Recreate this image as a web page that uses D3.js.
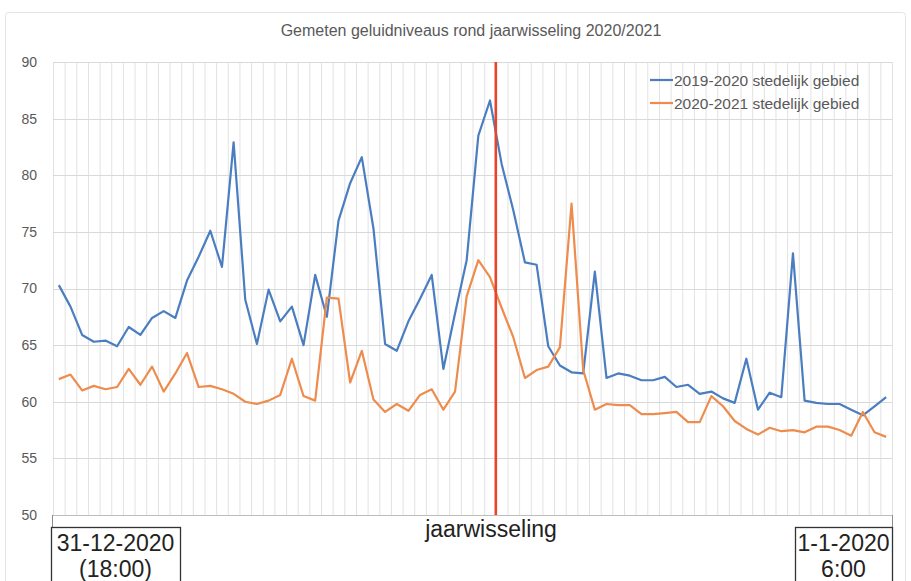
<!DOCTYPE html>
<html>
<head>
<meta charset="utf-8">
<script src="https://cdn.jsdelivr.net/npm/d3@7"></script>
<style>
  body { margin: 0; background: #fff; }
  svg { display: block; }
  text { font-family: "Liberation Sans", Arial, sans-serif; }
</style>
</head>
<body>
<svg id="chart" width="911" height="581"></svg>
<script>
// Ten-minute measurement slots between 18:00 and 6:00
const categories = d3.range(1, 73);

// Sound levels (dB) per slot
const series2019 = [70.3, 68.4, 65.9, 65.3, 65.4, 64.9, 66.6, 65.9, 67.4, 68.0,
  67.4, 70.7, 72.8, 75.1, 71.9, 82.9, 69.0, 65.1, 69.9, 67.1,
  68.4, 65.0, 71.2, 67.5, 76.0, 79.3, 81.6, 75.3, 65.1, 64.5,
  67.1, 69.1, 71.2, 62.9, 67.8, 72.5, 83.5, 86.6, 81.0, 76.9,
  72.3, 72.1, 64.9, 63.2, 62.6, 62.5, 71.5, 62.1, 62.5, 62.3,
  61.9, 61.9, 62.2, 61.3, 61.5, 60.7, 60.9, 60.3, 59.9, 63.8,
  59.3, 60.8, 60.4, 73.1, 60.1, 59.9, 59.8, 59.8, 59.3, 58.8,
  59.6, 60.4];

const series2020 = [62.0, 62.4, 61.0, 61.4, 61.1, 61.3, 62.9, 61.5, 63.1, 60.9,
  62.5, 64.3, 61.3, 61.4, 61.1, 60.7, 60.0, 59.8, 60.1, 60.6,
  63.8, 60.5, 60.1, 69.2, 69.1, 61.7, 64.5, 60.2, 59.1, 59.8,
  59.2, 60.6, 61.1, 59.3, 60.9, 69.3, 72.5, 71.0, 68.3, 65.7,
  62.1, 62.8, 63.1, 64.8, 77.5, 62.8, 59.3, 59.8, 59.7, 59.7,
  58.9, 58.9, 59.0, 59.1, 58.2, 58.2, 60.5, 59.6, 58.3, 57.6,
  57.1, 57.7, 57.4, 57.5, 57.3, 57.8, 57.8, 57.5, 57.0, 59.1,
  57.3, 56.9];

const seriesNames = ["2019-2020 stedelijk gebied", "2020-2021 stedelijk gebied"];
const seriesColors = ["#4a7ec0", "#ee8c4e"];
const yTicks = [50, 55, 60, 65, 70, 75, 80, 85, 90];
const newYearSlot = 39; // the slot that starts right after midnight

const title = "Gemeten geluidniveaus rond jaarwisseling 2020/2021";
const startLabel = ["31-12-2020", "(18:00)"];
const endLabel = ["1-1-2020", "6:00"];
const midLabel = "jaarwisseling";

const svg = d3.select("#chart");
const plot = { left: 53, right: 892, top: 62, bottom: 515 };

const x = d3.scaleBand().domain(categories).range([plot.left, plot.right]).padding(0);
const y = d3.scaleLinear().domain([50, 90]).range([plot.bottom, plot.top]);
const cx = d => x(d) + x.bandwidth() / 2;

// chart frame
svg.append("rect")
  .attr("x", 5.5).attr("y", 12.5).attr("width", 900).attr("height", 600)
  .attr("rx", 3).attr("fill", "none").attr("stroke", "#e4e4e4");

// title
svg.append("text")
  .attr("x", 471).attr("y", 36)
  .attr("text-anchor", "middle")
  .attr("font-size", 16).attr("fill", "#595959")
  .text(title);

// vertical gridlines at slot boundaries
const boundaries = categories.map(d => x(d)).concat([plot.right]);
svg.append("g").selectAll("line").data(boundaries).join("line")
  .attr("x1", d => d + 0.5).attr("x2", d => d + 0.5)
  .attr("y1", plot.top).attr("y2", plot.bottom)
  .attr("stroke", "#e2e2e2").attr("stroke-width", 1);

// horizontal gridlines
svg.append("g").selectAll("line").data(yTicks).join("line")
  .attr("x1", plot.left).attr("x2", plot.right)
  .attr("y1", d => Math.round(y(d)) + 0.5).attr("y2", d => Math.round(y(d)) + 0.5)
  .attr("stroke", "#d9d9d9").attr("stroke-width", 1);

// y axis labels
const yAxis = svg.append("g")
  .attr("transform", `translate(${plot.left},0)`)
  .call(d3.axisLeft(y).tickValues(yTicks).tickSize(0).tickPadding(16));
yAxis.select(".domain").remove();
yAxis.selectAll("text")
  .attr("font-family", "\"Liberation Sans\", Arial, sans-serif")
  .attr("font-size", 14).attr("fill", "#595959");

// category axis line
svg.append("line")
  .attr("x1", plot.left).attr("x2", plot.right)
  .attr("y1", plot.bottom + 0.5).attr("y2", plot.bottom + 0.5)
  .attr("stroke", "#bdbdbd");

// series lines
const line = d3.line().x((d, i) => cx(categories[i])).y(d => y(d));
[series2019, series2020].forEach((s, k) => {
  svg.append("path")
    .datum(s)
    .attr("d", line)
    .attr("fill", "none")
    .attr("stroke", seriesColors[k])
    .attr("stroke-width", 2.2)
    .attr("stroke-linejoin", "round");
});

// new-year marker
const xNY = x(newYearSlot);
svg.append("line")
  .attr("x1", xNY).attr("x2", xNY)
  .attr("y1", plot.top).attr("y2", plot.bottom)
  .attr("stroke", "#e8432c").attr("stroke-width", 2.6);

// legend
const legend = svg.append("g").attr("transform", "translate(650,80)");
seriesNames.forEach((name, k) => {
  const g = legend.append("g").attr("transform", `translate(0,${k * 23})`);
  g.append("line").attr("x1", 0).attr("x2", 23).attr("y1", 0).attr("y2", 0)
    .attr("stroke", seriesColors[k]).attr("stroke-width", 2.2);
  g.append("text").attr("x", 24).attr("y", 5.5)
    .attr("font-size", 15.5).attr("fill", "#595959").text(name);
});

// lower annotation area
svg.append("line").attr("x1", plot.left - 0.5).attr("x2", plot.left - 0.5)
  .attr("y1", plot.bottom).attr("y2", 581).attr("stroke", "#8c8c8c");
svg.append("line").attr("x1", plot.right + 0.5).attr("x2", plot.right + 0.5)
  .attr("y1", plot.bottom).attr("y2", 581).attr("stroke", "#8c8c8c");

svg.append("text")
  .attr("x", 491).attr("y", 537)
  .attr("text-anchor", "middle")
  .attr("font-size", 23).attr("fill", "#222")
  .text(midLabel);

function dateBox(x0, x1, lines) {
  svg.append("rect")
    .attr("x", x0 + 0.5).attr("y", 527.5)
    .attr("width", x1 - x0).attr("height", 70)
    .attr("fill", "#fff").attr("stroke", "#333").attr("stroke-width", 1.3);
  const t = svg.append("text")
    .attr("text-anchor", "middle")
    .attr("font-size", 23).attr("fill", "#222");
  lines.forEach((s, i) => {
    t.append("tspan").attr("x", (x0 + x1) / 2).attr("y", 551 + i * 26).text(s);
  });
}
dateBox(51, 180, startLabel);
dateBox(795, 892, endLabel);
</script>
</body>
</html>
